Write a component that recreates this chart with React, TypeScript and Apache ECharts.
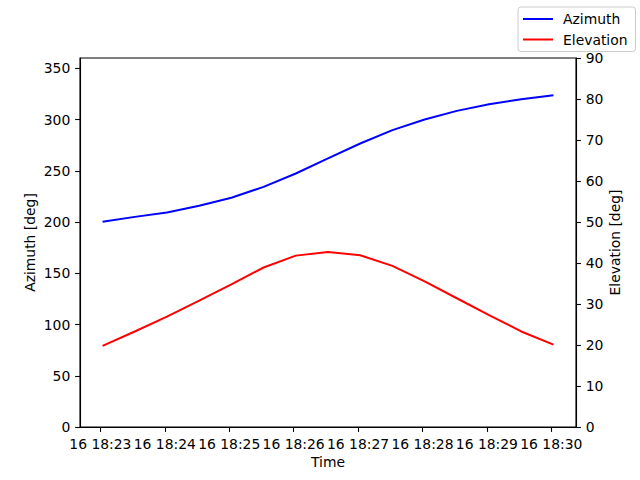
import React, { useEffect, useRef } from "react";
import * as echarts from "echarts";

// seconds after 16 18:23:00
const sampleSeconds = [2, 32, 62, 92, 122, 152, 182, 212, 242, 272, 302, 332, 362, 392, 422];
const azimuth = [200.2, 205.0, 209.3, 215.8, 223.6, 234.3, 247.3, 262.0, 276.6, 289.6, 300.0, 308.4, 314.9, 319.8, 323.7];
const elevation = [19.8, 23.3, 26.9, 30.8, 34.8, 38.9, 41.8, 42.7, 41.9, 39.3, 35.5, 31.4, 27.3, 23.3, 20.1];
const xTickSeconds = [0, 60, 120, 180, 240, 300, 360, 420];
const xTickLabels = ["16 18:23", "16 18:24", "16 18:25", "16 18:26", "16 18:27", "16 18:28", "16 18:29", "16 18:30"];
const azTicks = [0, 50, 100, 150, 200, 250, 300, 350];
const elTicks = [0, 10, 20, 30, 40, 50, 60, 70, 80, 90];

const FONT = "DejaVu Sans";
const FS = 13.9;

export default function App() {
  const ref = useRef<HTMLDivElement>(null);
  useEffect(() => {
    document.body.style.margin = "0";
    const chart = echarts.init(ref.current!, null, { renderer: "svg" });
    const axisCommon = {
      axisLine: { show: true, onZero: false, lineStyle: { color: "#000", width: 1.1 } },
      axisTick: { show: true, length: 4.9, lineStyle: { color: "#000", width: 1.1 } },
      splitLine: { show: false },
      nameMoveOverlap: false,
      nameTextStyle: { color: "#000", fontFamily: FONT, fontSize: FS },
    };
    chart.setOption({
      animation: false,
      backgroundColor: "#fff",
      textStyle: { fontFamily: FONT },
      grid: { left: 80, top: 58, width: 496, height: 369, show: true, borderColor: "#000", borderWidth: 1.1, backgroundColor: "transparent" },
      legend: {
        orient: "vertical",
        left: 518,
        top: 7,
        data: ["Azimuth", "Elevation"],
        icon: "rect",
        itemWidth: 30,
        itemHeight: 2,
        itemGap: 6.5,
        padding: [5, 8, 5, 5],
        backgroundColor: "rgba(255,255,255,0.8)",
        borderColor: "#cccccc",
        borderWidth: 1,
        borderRadius: 3,
        textStyle: { color: "#000", fontFamily: FONT, fontSize: FS, padding: [0, 0, 0, 5] },
      },
      xAxis: {
        ...axisCommon,
        type: "value",
        min: -19,
        max: 443,
        name: "Time",
        nameLocation: "middle",
        nameGap: 28,
        axisTick: { ...axisCommon.axisTick, customValues: xTickSeconds },
        axisLabel: {
          customValues: xTickSeconds,
          color: "#000",
          fontFamily: FONT,
          fontSize: FS,
          margin: 9.7,
          formatter: (v: number) => xTickLabels[xTickSeconds.indexOf(Math.round(v))] ?? "",
        },
      },
      yAxis: [
        {
          ...axisCommon,
          type: "value",
          min: 0,
          max: 360,
          position: "left",
          name: "Azimuth [deg]",
          nameLocation: "middle",
          nameRotate: 90,
          nameGap: 43,
          axisTick: { ...axisCommon.axisTick, customValues: azTicks },
          axisLabel: { customValues: azTicks, color: "#000", fontFamily: FONT, fontSize: FS, margin: 9.7 },
        },
        {
          ...axisCommon,
          type: "value",
          min: 0,
          max: 90,
          position: "right",
          name: "Elevation [deg]",
          nameLocation: "middle",
          nameRotate: 90,
          nameGap: 32,
          axisTick: { ...axisCommon.axisTick, customValues: elTicks },
          axisLabel: { customValues: elTicks, color: "#000", fontFamily: FONT, fontSize: FS, margin: 9.7 },
        },
      ],
      series: [
        {
          name: "Azimuth",
          type: "line",
          yAxisIndex: 0,
          showSymbol: false,
          color: "#0000ff",
          lineStyle: { color: "#0000ff", width: 2 },
          data: sampleSeconds.map((s, i) => [s, azimuth[i]]),
        },
        {
          name: "Elevation",
          type: "line",
          yAxisIndex: 1,
          showSymbol: false,
          color: "#ff0000",
          lineStyle: { color: "#ff0000", width: 2 },
          data: sampleSeconds.map((s, i) => [s, elevation[i]]),
        },
      ],
    });
    return () => chart.dispose();
  }, []);
  return <div ref={ref} style={{ width: 640, height: 480, position: "absolute", left: 0, top: 0 }} />;
}
